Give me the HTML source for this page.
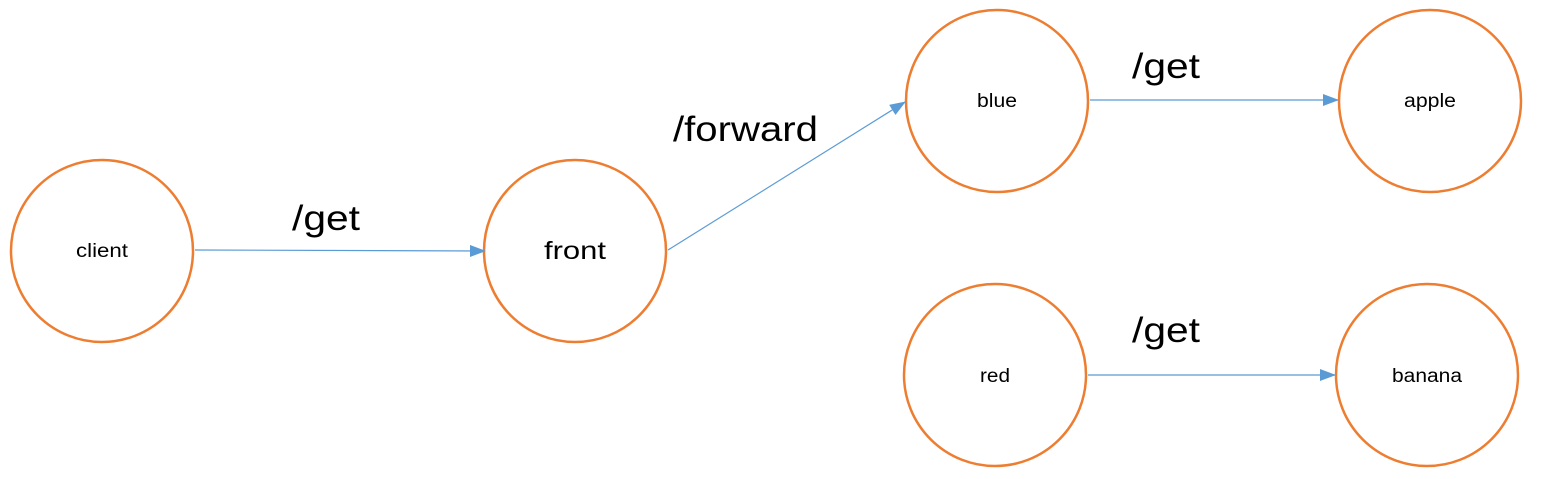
<!DOCTYPE html>
<html><head><meta charset="utf-8"><style>
html,body{margin:0;padding:0;background:#fff;}
svg{display:block;}
text{font-family:"Liberation Sans",sans-serif;fill:#000;}
</style></head><body>
<svg width="1560" height="479" viewBox="0 0 1560 479" xmlns="http://www.w3.org/2000/svg">
<defs>
<marker id="a" markerWidth="16" markerHeight="12" refX="15" refY="6" orient="auto" markerUnits="userSpaceOnUse">
<path d="M0,0 L16,6 L0,12 z" fill="#5b9bd5"/>
</marker>
</defs>
<g fill="none" stroke="#ed7d31" stroke-width="2.5">
<circle cx="102" cy="251" r="91"/>
<circle cx="575" cy="251" r="91"/>
<circle cx="997" cy="101" r="91"/>
<circle cx="1430" cy="101" r="91"/>
<circle cx="995" cy="375" r="91"/>
<circle cx="1427" cy="375" r="91"/>
</g>
<g stroke="#5b9bd5" stroke-width="1.2" fill="none">
<line x1="195" y1="250" x2="485" y2="251" marker-end="url(#a)"/>
<line x1="668" y1="250" x2="905" y2="102" marker-end="url(#a)"/>
<line x1="1090" y1="100" x2="1338" y2="100" marker-end="url(#a)"/>
<line x1="1088" y1="375" x2="1335" y2="375" marker-end="url(#a)"/>
</g>
<g text-anchor="middle" font-size="19">
<text x="102" y="257" textLength="52" lengthAdjust="spacingAndGlyphs">client</text>
<text x="575" y="259" font-size="25" textLength="62" lengthAdjust="spacingAndGlyphs">front</text>
<text x="997" y="107" textLength="40" lengthAdjust="spacingAndGlyphs">blue</text>
<text x="1430" y="107" textLength="52" lengthAdjust="spacingAndGlyphs">apple</text>
<text x="995" y="382" textLength="30" lengthAdjust="spacingAndGlyphs">red</text>
<text x="1427" y="382" textLength="70" lengthAdjust="spacingAndGlyphs">banana</text>
</g>
<g font-size="35">
<text x="292" y="230" textLength="68" lengthAdjust="spacingAndGlyphs">/get</text>
<text x="673" y="141" textLength="145" lengthAdjust="spacingAndGlyphs">/forward</text>
<text x="1132" y="78" textLength="68" lengthAdjust="spacingAndGlyphs">/get</text>
<text x="1132" y="342" textLength="68" lengthAdjust="spacingAndGlyphs">/get</text>
</g>
</svg>
</body></html>
